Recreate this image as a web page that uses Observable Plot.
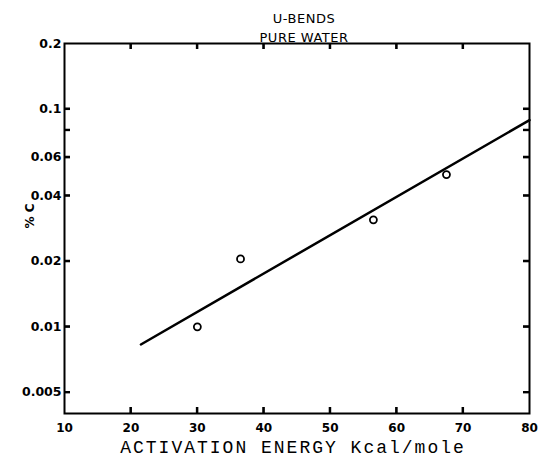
<!DOCTYPE html>
<html>
<head>
<meta charset="utf-8">
<script src="https://cdn.jsdelivr.net/npm/d3@7"></script>
<script src="https://cdn.jsdelivr.net/npm/@observablehq/plot@0.6"></script>
<style>
  html, body { margin: 0; padding: 0; background: white; }
</style>
</head>
<body>
<div id="chart"></div>
<script>
// Data
const titleLines = ["U-BENDS", "PURE WATER"];
const xLabel = "ACTIVATION ENERGY Kcal/mole";
const yLabel = "% C";

const xTickLabels = [10, 20, 30, 40, 50, 60, 70, 80];
const xTickMarks = [20, 30, 40, 50, 60, 70];
const yTickValues = [0.2, 0.1, 0.06, 0.04, 0.02, 0.01, 0.005];
const yTickText = ["0.2", "0.1", "0.06", "0.04", "0.02", "0.01", "0.005"];
const yTickMarks = [0.1, 0.08, 0.06, 0.04, 0.02, 0.01, 0.005];

// Measured points (activation energy, %C)
const pointEnergy = [30, 36.5, 56.5, 67.5];
const pointC = [0.01, 0.0205, 0.031, 0.050];

// Fitted line end points
const fitEnergy = [21.5, 80];
const fitC = [0.0083, 0.089];

const W = 538, H = 466, ML = 64, MR = 9, MT = 43, MB = 53;
const TICK = 6;
const frameW = W - ML - MR, frameH = H - MT - MB;

const chart = Plot.plot({
  width: W,
  height: H,
  marginLeft: ML,
  marginRight: MR,
  marginTop: MT,
  marginBottom: MB,
  style: { fontFamily: "DejaVu Sans" },
  x: { domain: [10, 80] },
  y: { type: "log", domain: [0.004, 0.2] },
  marks: [
    Plot.frame({ stroke: "black", strokeWidth: 2 }),
    // tick labels
    Plot.axisX(xTickLabels, {
      anchor: "bottom", tickSize: 0, tickPadding: 10, label: null,
      tickFormat: d => String(d), fontSize: 12, fontWeight: "bold"
    }),
    Plot.axisY(yTickValues, {
      anchor: "left", tickSize: 0, tickPadding: 3, label: null,
      tickFormat: d => yTickText[yTickValues.indexOf(d)], fontSize: 12.5, fontWeight: "bold"
    }),
    // fitted line
    Plot.line(fitEnergy, { x: d => d, y: (d, i) => fitC[i], stroke: "black", strokeWidth: 2.5 }),
    // data points
    Plot.dot(pointEnergy, { x: d => d, y: (d, i) => pointC[i], r: 3.5, stroke: "black", strokeWidth: 1.8, fill: "white" }),
    // titles and labels
    Plot.text([titleLines[0]], { frameAnchor: "top", dy: -30, dx: 7, fontSize: 13, text: d => d }),
    Plot.text([titleLines[1]], { frameAnchor: "top", dy: -11, dx: 7, fontSize: 13, text: d => d }),
    Plot.text([yLabel], { frameAnchor: "left", rotate: -90, dx: -34, fontSize: 12, fontWeight: "bold", text: d => d }),
    Plot.text([xLabel], { frameAnchor: "bottom", dy: 39, dx: -4, fontSize: 18, fontFamily: "Liberation Mono", text: d => d }),
    // inward tick marks
    Plot.ruleX(xTickMarks, { x: d => d, insetTop: frameH - TICK, stroke: "black", strokeWidth: 2 }),
    Plot.ruleX(xTickMarks, { x: d => d, insetBottom: frameH - TICK, stroke: "black", strokeWidth: 2 }),
    Plot.ruleY(yTickMarks, { y: d => d, insetRight: frameW - TICK, stroke: "black", strokeWidth: 2 }),
    Plot.ruleY(yTickMarks, { y: d => d, insetLeft: frameW - TICK, stroke: "black", strokeWidth: 2 })
  ]
});

d3.select(chart).selectAll("text").each(function () {
  const t = this.textContent;
  if (t === xLabel) d3.select(this).attr("letter-spacing", "2px");
  if (titleLines.includes(t)) d3.select(this).attr("letter-spacing", "0.5px");
});

// Reinforce the inward ticks as paths positioned through Plot's own scales
const sx = chart.scale("x"), sy = chart.scale("y");
const frameLeft = ML, frameRight = W - MR, frameTop = MT, frameBottom = H - MB;
let tickPath = "";
for (const v of xTickMarks) {
  const px = sx.apply(v);
  tickPath += `M${px},${frameBottom}V${frameBottom - TICK}M${px},${frameTop}V${frameTop + TICK}`;
}
for (const v of yTickMarks) {
  const py = sy.apply(v);
  tickPath += `M${frameLeft},${py}H${frameLeft + TICK}M${frameRight},${py}H${frameRight - TICK}`;
}
d3.select(chart).append("path")
  .attr("d", tickPath)
  .attr("fill", "none")
  .attr("stroke", "#000")
  .attr("stroke-width", 2);

document.getElementById("chart").appendChild(chart);
</script>
</body>
</html>
